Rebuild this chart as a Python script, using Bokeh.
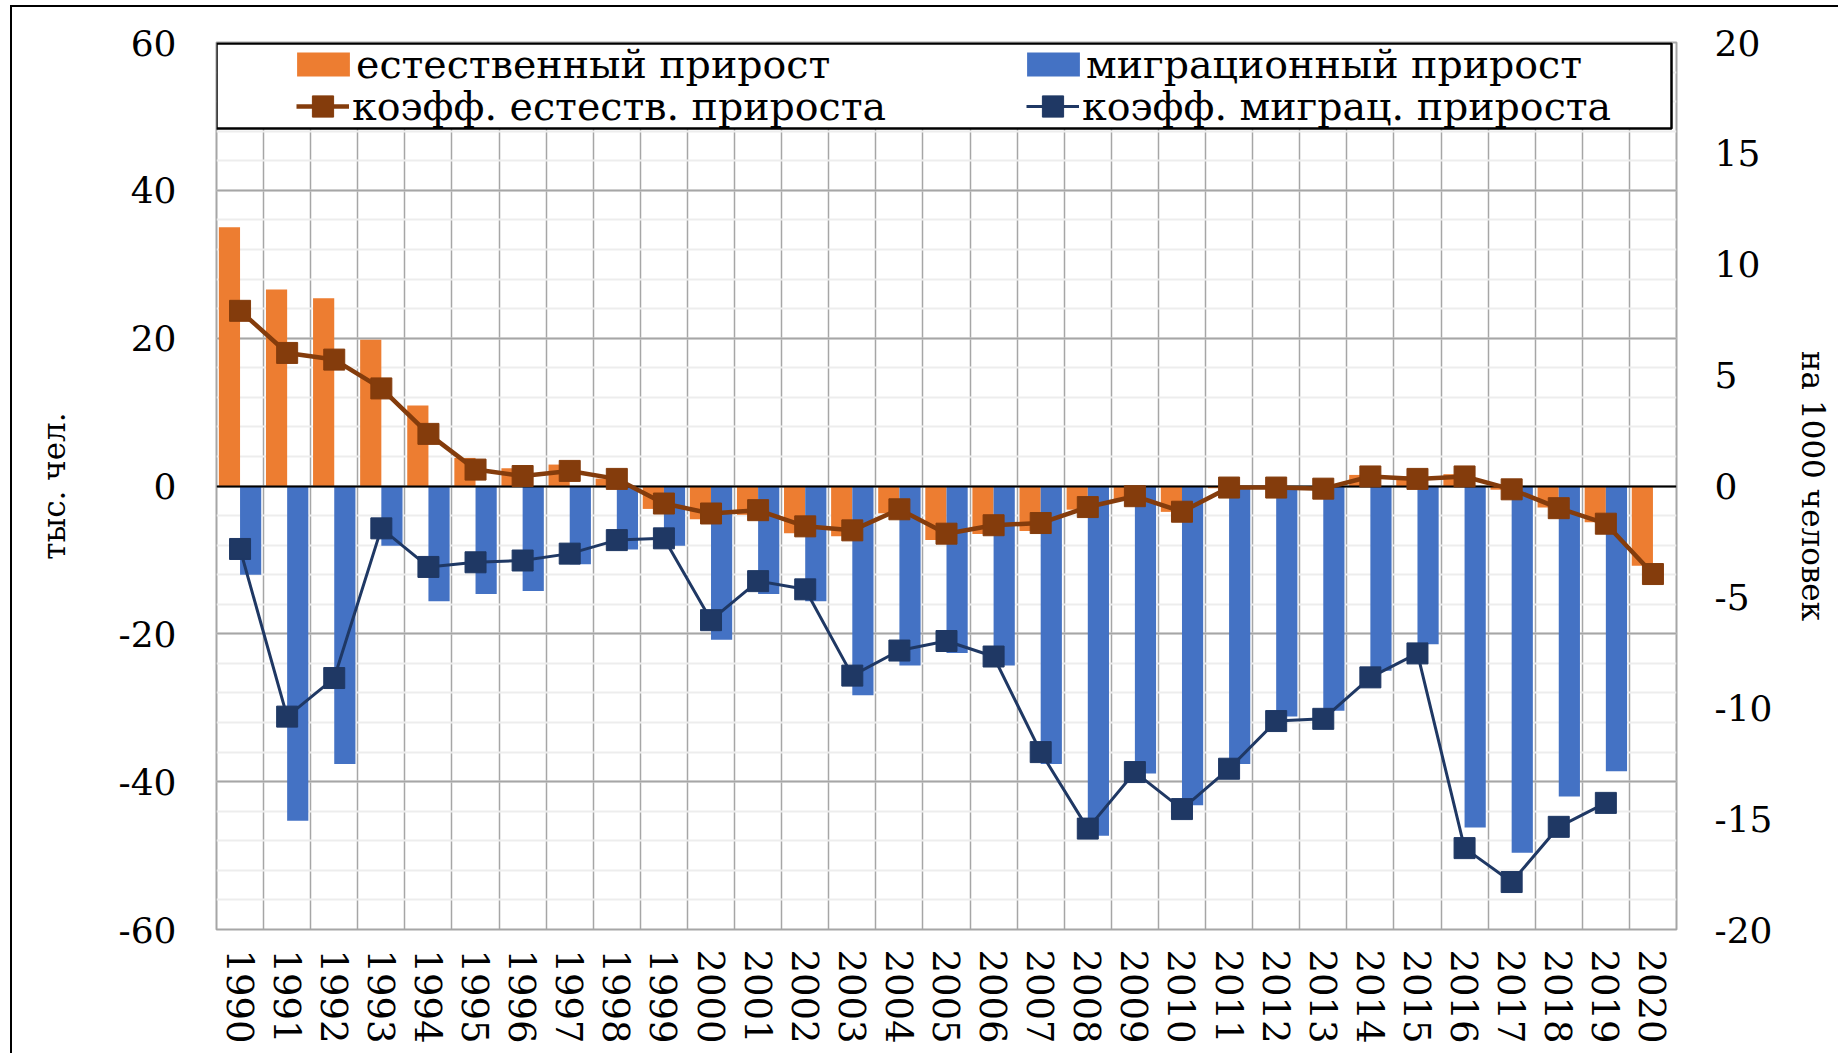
import numpy as np
from bokeh.plotting import figure
from bokeh.models import (Range1d, LinearAxis, FixedTicker, SingleIntervalTicker,
                          Legend, LegendItem, BoxAnnotation)
from bokeh.embed import file_html
from bokeh.resources import INLINE

# ---------------- data ----------------
years = [str(y) for y in range(1990, 2021)]

# тыс. чел.
natural_growth = [35.0, 26.6, 25.4, 19.8, 10.9, 3.8, 2.4, 2.9, 1.0, -3.1,
                  -4.5, -3.9, -6.4, -6.8, -3.7, -7.3, -6.5, -6.1, -3.2, -1.8,
                  -3.5, -0.3, -0.2, -0.2, 1.5, 1.3, 1.6, -0.5, -2.9, -4.9,
                  -10.8]
migration_growth = [-12.0, -45.3, -37.6, -8.1, -15.6, -14.6, -14.2, -10.6, -8.6, -8.1,
                    -20.8, -14.6, -15.6, -28.3, -24.3, -22.6, -24.3, -37.6, -47.3, -38.9,
                    -43.2, -37.6, -31.2, -30.4, -25.0, -21.4, -46.2, -49.6, -42.0, -38.6,
                    float("nan")]
# на 1000 человек
natural_rate = [7.9, 6.0, 5.7, 4.4, 2.35, 0.74, 0.45, 0.68, 0.32, -0.79,
                -1.24, -1.09, -1.82, -2.0, -1.05, -2.15, -1.77, -1.67, -0.95, -0.46,
                -1.16, -0.07, -0.07, -0.12, 0.43, 0.32, 0.43, -0.15, -1.0, -1.7,
                -3.97]
migration_rate = [-2.84, -10.4, -8.66, -1.91, -3.65, -3.44, -3.36, -3.05, -2.44, -2.36,
                  -6.05, -4.29, -4.66, -8.55, -7.42, -6.99, -7.69, -12.0, -15.45, -12.9,
                  -14.57, -12.75, -10.6, -10.5, -8.63, -7.55, -16.33, -17.86, -15.37, -14.29,
                  float("nan")]

left_range = (-60, 60)
left_step = 20
right_range = (-20, 20)
right_step = 5

labels = ["естественный прирост", "миграционный прирост",
          "коэфф. естеств. прироста", "коэфф. миграц. прироста"]

# ---------------- styling ----------------
ORANGE = "#ED7D31"
BLUE = "#4472C4"
BROWN = "#843C0C"
NAVY = "#1F3864"
GRID = "#A6A6A6"
FONT = "DejaVu Serif"

W, H = 1828, 1048
MB_L, MB_R, MB_T, MB_B = 204, 164, 35, 126
frame_w = W - MB_L - MB_R
frame_h = H - MB_T - MB_B

x = np.arange(len(years))
bar_w = 0.45

p = figure(width=W, height=H,
           x_range=Range1d(-0.5, len(years) - 0.5),
           y_range=Range1d(*left_range),
           output_backend="svg", toolbar_location=None,
           min_border_left=MB_L, min_border_right=MB_R,
           min_border_top=MB_T, min_border_bottom=MB_B)
p.styles = {"margin-left": "10px", "margin-top": "5px",
            "border-top": "2px solid black", "border-left": "2px solid black"}
p.extra_y_ranges = {"rate": Range1d(*right_range)}
p.background_fill_color = "white"
p.border_fill_color = "white"
p.outline_line_color = GRID
p.outline_line_width = 2

# grids
p.xgrid.ticker = FixedTicker(ticks=[i - 0.5 for i in range(len(years) + 1)])
p.xgrid.grid_line_color = GRID
p.xgrid.grid_line_width = 1.5
left_ticker = SingleIntervalTicker(interval=left_step, num_minor_ticks=5)
p.ygrid.ticker = left_ticker
p.ygrid.grid_line_color = GRID
p.ygrid.grid_line_width = 2
p.ygrid.minor_grid_line_color = "#EDEDED"
p.ygrid.minor_grid_line_width = 2

# bars
nat_bars = p.vbar(x=x - bar_w / 2, top=natural_growth, width=bar_w,
                  fill_color=ORANGE, line_color=None)
mig_bars = p.vbar(x=x + bar_w / 2, top=migration_growth, width=bar_w,
                  fill_color=BLUE, line_color=None)

# zero line
p.hspan(y=[0], line_color="black", line_width=2)

# rate lines
mig_line = p.line(x, migration_rate, y_range_name="rate", line_color=NAVY, line_width=3)
mig_pts = p.scatter(x, migration_rate, y_range_name="rate", marker="square", size=21,
                    fill_color=NAVY, line_color=NAVY)
nat_line = p.line(x, natural_rate, y_range_name="rate", line_color=BROWN, line_width=4.5)
nat_pts = p.scatter(x, natural_rate, y_range_name="rate", marker="square", size=21,
                    fill_color=BROWN, line_color=BROWN)

# axes
p.xaxis.ticker = FixedTicker(ticks=list(x))
p.xaxis.major_label_overrides = {int(i): yr for i, yr in zip(x, years)}
p.xaxis.major_label_orientation = "vertical"
p.xaxis.major_label_standoff = 14

p.yaxis.ticker = left_ticker
p.yaxis.major_label_overrides = {t: str(t) for t in range(left_range[0], left_range[1] + 1, left_step)}
p.yaxis.axis_label = "тыс. чел."
p.yaxis.major_label_standoff = 34
p.yaxis.axis_label_standoff = 44

right_axis = LinearAxis(y_range_name="rate", ticker=SingleIntervalTicker(interval=right_step),
                        axis_label="на 1000 человек")
right_axis.major_label_overrides = {t: str(t) for t in range(right_range[0], right_range[1] + 1, right_step)}
p.add_layout(right_axis, "right")
right_axis.major_label_standoff = 32
right_axis.axis_label_standoff = 20

for ax in [p.xaxis[0], p.yaxis[0], right_axis]:
    ax.axis_line_color = None
    ax.major_tick_line_color = None
    ax.minor_tick_line_color = None
    ax.major_label_text_font = FONT
    ax.major_label_text_font_size = "36px"
    ax.major_label_text_color = "black"
    ax.axis_label_text_font = FONT
    ax.axis_label_text_font_size = "31px"
    ax.axis_label_text_font_style = "normal"
    ax.axis_label_text_color = "black"
p.xaxis.major_label_text_font_size = "37px"

# legend box
box = BoxAnnotation(left=0, right=frame_w - 5, top=frame_h - 1, bottom=frame_h - 86,
                    left_units="screen", right_units="screen",
                    top_units="screen", bottom_units="screen",
                    fill_color="white", fill_alpha=1.0,
                    line_color="black", line_alpha=1.0, line_width=2.5)
p.add_layout(box)

common = dict(padding=0, margin=0, spacing=0, orientation="horizontal",
              label_text_font=FONT, label_text_font_size="39.5px",
              label_text_color="black",
              border_line_color=None, background_fill_alpha=0)

legend1 = Legend(items=[LegendItem(label=labels[0], renderers=[nat_bars]),
                        LegendItem(label=labels[1], renderers=[mig_bars])],
                 glyph_width=66, glyph_height=30, label_standoff=0, label_width=664,
                 location=(74, frame_h - 45), **common)
legend2 = Legend(items=[LegendItem(label=labels[2], renderers=[nat_line, nat_pts]),
                        LegendItem(label=labels[3], renderers=[mig_line, mig_pts])],
                 glyph_width=53, glyph_height=54, label_standoff=3, label_width=674,
                 location=(80, frame_h - 91), **common)
p.add_layout(legend1)
p.add_layout(legend2)

open("out.html", "w").write(file_html(p, INLINE))
